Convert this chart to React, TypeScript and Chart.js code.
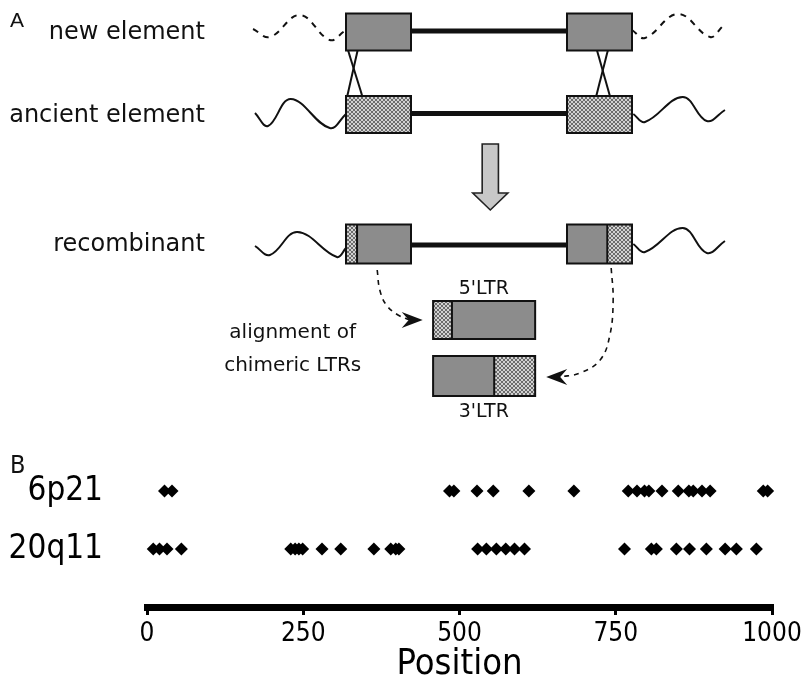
import React, { useEffect, useRef } from "react";
import { Chart, registerables } from "chart.js";
Chart.register(...registerables);

// ---------------- Panel B data ----------------
const rowNames = ["6p21", "20q11"];
const rowLevels = [2, 1];
const positions6p21 = [28, 40, 484, 491, 528, 554, 611, 683, 770, 784, 796, 803, 824, 850, 867, 874, 888, 901, 986, 993];
const positions20q11 = [10, 20, 32, 55, 230, 237, 243, 249, 280, 310, 363, 390, 398, 403, 529, 543, 559, 574, 588, 604, 764, 807, 815, 847, 868, 895, 925, 943, 975];
const xTickValues = [0, 250, 500, 750, 1000];
const xAxisTitle = "Position";
const panelLabels = ["A", "B"];

// ---------------- Panel A texts ----------------
const diagramRowLabels = ["new element", "ancient element", "recombinant"];
const chimeraLabels = ["5'LTR", "3'LTR"];
const alignmentCaption = ["alignment of", "chimeric LTRs"];

// Diagram geometry (x in LTR-length units, y in diagram units)
const LEFT_LTR: [number, number] = [0, 1];
const RIGHT_LTR: [number, number] = [3.4, 4.4];
const ROW_Y = [32, 114.5, 244];
const BOX_HALF = 18.5;
const LEFT_CROSS = 0.17;
const RIGHT_CROSS = 4.02;

const waveNewLeft = [[-1.43, 29], [-1.17, 37], [-0.71, 15], [-0.25, 40], [-0.02, 31]];
const waveNewRight = [[4.4, 30], [4.6, 38], [5.11, 14], [5.6, 37], [5.8, 26]];
const waveOldLeft = [[-1.4, 113], [-1.2, 126], [-0.85, 99], [-0.25, 128], [0, 114]];
const waveOldRight = [[4.42, 114], [4.6, 122], [5.18, 97], [5.55, 121], [5.83, 110]];
const waveRecLeft = [[-1.4, 246], [-1.17, 255], [-0.75, 232], [-0.14, 257], [0, 248]];
const waveRecRight = [[4.42, 244], [4.6, 252], [5.18, 228], [5.55, 253], [5.83, 241]];
const crossLines = [
  [[0.03, 50], [0.25, 96]],
  [[0.18, 50], [0.02, 96]],
  [[3.86, 50], [4.06, 96]],
  [[4.03, 50], [3.85, 96]],
];
const curveLeft = [[0.48, 270], [0.52, 290], [0.62, 305], [0.8, 315], [0.98, 320]];
const curveRight = [[4.08, 268], [4.11, 300], [4.06, 335], [3.91, 360], [3.6, 373], [3.29, 377]];

const FONT_A = "'DejaVu Sans', 'Lucida Grande', Verdana, sans-serif";
const FONT_B = "'Liberation Sans Narrow', 'DejaVu Sans Condensed', 'Liberation Sans', sans-serif";

const toPts = (arr: number[][]) => arr.map(([x, y]) => ({ x, y }));

function makeHatch(ctx: CanvasRenderingContext2D) {
  const c = document.createElement("canvas");
  c.width = 4;
  c.height = 4;
  const g = c.getContext("2d")!;
  g.fillStyle = "#d2d2d2";
  g.fillRect(0, 0, 4, 4);
  g.fillStyle = "#6c6c6c";
  for (let i = 0; i < 4; i++) {
    g.fillRect(i, i, 1, 1);
    g.fillRect(i, 3 - i, 1, 1);
  }
  return ctx.createPattern(c, "repeat")!;
}

const diagramPlugin = {
  id: "diagram",
  afterDatasetsDraw(chart: any) {
    const ctx: CanvasRenderingContext2D = chart.ctx;
    const sx = chart.scales.x;
    const sy = chart.scales.y;
    const X = (u: number) => sx.getPixelForValue(u);
    const Y = (v: number) => sy.getPixelForValue(v);
    const hatch = makeHatch(ctx);
    const solid = "#8c8c8c";
    ctx.save();

    const rect = (u0: number, u1: number, v0: number, v1: number, fill: any) => {
      ctx.fillStyle = fill;
      ctx.fillRect(X(u0), Y(v0), X(u1) - X(u0), Y(v1) - Y(v0));
    };
    const frame = (u0: number, u1: number, v0: number, v1: number) => {
      ctx.lineWidth = 2;
      ctx.strokeStyle = "#111";
      ctx.strokeRect(X(u0), Y(v0), X(u1) - X(u0), Y(v1) - Y(v0));
    };
    const divider = (u: number, v0: number, v1: number) => {
      ctx.lineWidth = 2;
      ctx.strokeStyle = "#111";
      ctx.beginPath();
      ctx.moveTo(X(u), Y(v0));
      ctx.lineTo(X(u), Y(v1));
      ctx.stroke();
    };

    // new element boxes
    let v0 = ROW_Y[0] - BOX_HALF, v1 = ROW_Y[0] + BOX_HALF;
    rect(LEFT_LTR[0], LEFT_LTR[1], v0, v1, solid);
    frame(LEFT_LTR[0], LEFT_LTR[1], v0, v1);
    rect(RIGHT_LTR[0], RIGHT_LTR[1], v0, v1, solid);
    frame(RIGHT_LTR[0], RIGHT_LTR[1], v0, v1);

    // ancient element boxes
    v0 = ROW_Y[1] - BOX_HALF; v1 = ROW_Y[1] + BOX_HALF;
    rect(LEFT_LTR[0], LEFT_LTR[1], v0, v1, hatch);
    frame(LEFT_LTR[0], LEFT_LTR[1], v0, v1);
    rect(RIGHT_LTR[0], RIGHT_LTR[1], v0, v1, hatch);
    frame(RIGHT_LTR[0], RIGHT_LTR[1], v0, v1);

    // recombinant boxes
    v0 = ROW_Y[2] - BOX_HALF - 1; v1 = ROW_Y[2] + BOX_HALF + 1;
    rect(LEFT_LTR[0], LEFT_CROSS, v0, v1, hatch);
    rect(LEFT_CROSS, LEFT_LTR[1], v0, v1, solid);
    divider(LEFT_CROSS, v0, v1);
    frame(LEFT_LTR[0], LEFT_LTR[1], v0, v1);
    rect(RIGHT_LTR[0], RIGHT_CROSS, v0, v1, solid);
    rect(RIGHT_CROSS, RIGHT_LTR[1], v0, v1, hatch);
    divider(RIGHT_CROSS, v0, v1);
    frame(RIGHT_LTR[0], RIGHT_LTR[1], v0, v1);

    // chimeric LTR alignment boxes
    const c0 = 1.34, c1 = 2.91;
    rect(c0, 1.63, 301, 339, hatch);
    rect(1.63, c1, 301, 339, solid);
    divider(1.63, 301, 339);
    frame(c0, c1, 301, 339);
    rect(c0, 2.28, 356, 396, solid);
    rect(2.28, c1, 356, 396, hatch);
    divider(2.28, 356, 396);
    frame(c0, c1, 356, 396);

    // big down arrow
    const ac = 2.22, sw = 0.125, hw = 0.27;
    ctx.beginPath();
    ctx.moveTo(X(ac - sw), Y(144));
    ctx.lineTo(X(ac + sw), Y(144));
    ctx.lineTo(X(ac + sw), Y(193));
    ctx.lineTo(X(ac + hw), Y(193));
    ctx.lineTo(X(ac), Y(210));
    ctx.lineTo(X(ac - hw), Y(193));
    ctx.lineTo(X(ac - sw), Y(193));
    ctx.closePath();
    ctx.fillStyle = "#c8c8c8";
    ctx.fill();
    ctx.lineWidth = 1.6;
    ctx.strokeStyle = "#222";
    ctx.stroke();

    // arrow heads of dashed curves
    const head = (tu: number, tv: number, dir: number) => {
      const tx = X(tu), ty = Y(tv);
      ctx.beginPath();
      ctx.moveTo(tx, ty);
      ctx.lineTo(tx - dir * 21, ty - 8);
      ctx.lineTo(tx - dir * 14, ty);
      ctx.lineTo(tx - dir * 21, ty + 8);
      ctx.closePath();
      ctx.fillStyle = "#111";
      ctx.fill();
    };
    head(1.18, 320, 1);
    head(3.08, 377, -1);

    // texts
    ctx.fillStyle = "#111";
    ctx.textBaseline = "middle";
    ctx.textAlign = "left";
    ctx.font = `21px 'Liberation Sans', Arial, sans-serif`;
    ctx.fillText(panelLabels[0], X(-5.17), Y(21));
    ctx.font = `25px ${FONT_B}`;
    ctx.fillText(panelLabels[1], X(-5.17), Y(466));

    ctx.textAlign = "right";
    ctx.font = `24px ${FONT_A}`;
    diagramRowLabels.forEach((t, i) => ctx.fillText(t, X(-2.17), Y(ROW_Y[i] + 1)));

    ctx.textAlign = "center";
    ctx.font = `19px ${FONT_A}`;
    ctx.fillText(chimeraLabels[0], X(2.12), Y(289));
    ctx.fillText(chimeraLabels[1], X(2.12), Y(412));
    ctx.font = `20px ${FONT_A}`;
    ctx.fillText(alignmentCaption[0], X(-0.82), Y(333));
    ctx.fillText(alignmentCaption[1], X(-0.82), Y(366));

    ctx.restore();
  },
};

function lineDs(points: number[][], width: number, dash: number[] = [], tension = 0.4) {
  return {
    type: "line" as const,
    data: toPts(points),
    borderColor: "#111",
    borderWidth: width,
    borderDash: dash,
    pointRadius: 0,
    tension,
    fill: false,
  };
}

export default function App() {
  const refA = useRef<HTMLCanvasElement>(null);
  const refB = useRef<HTMLCanvasElement>(null);

  useEffect(() => {
    const datasetsA: any[] = [
      lineDs(waveNewLeft, 2, [6, 6]),
      lineDs(waveNewRight, 2, [6, 6]),
      lineDs(waveOldLeft, 2),
      lineDs(waveOldRight, 2),
      lineDs(waveRecLeft, 2),
      lineDs(waveRecRight, 2),
      lineDs([[LEFT_LTR[1], 31], [RIGHT_LTR[0], 31]], 5, [], 0),
      lineDs([[LEFT_LTR[1], 113.5], [RIGHT_LTR[0], 113.5]], 5, [], 0),
      lineDs([[LEFT_LTR[1], 245], [RIGHT_LTR[0], 245]], 5, [], 0),
      ...crossLines.map((l) => lineDs(l, 2, [], 0)),
      lineDs(curveLeft, 1.6, [5, 5]),
      lineDs(curveRight, 1.6, [5, 5]),
    ];
    const chartA = new Chart(refA.current!, {
      type: "scatter",
      data: { datasets: datasetsA },
      options: {
        animation: false,
        responsive: false,
        events: [],
        layout: { padding: 0 },
        plugins: { legend: { display: false }, tooltip: { enabled: false } },
        scales: {
          x: { type: "linear", min: -346 / 65, max: 462 / 65, display: false },
          y: { type: "linear", min: 0, max: 684, reverse: true, display: false },
        },
      },
      plugins: [diagramPlugin],
    });

    const pointStyle = {
      pointStyle: "rectRot" as const,
      pointRadius: 6.5,
      backgroundColor: "#000",
      borderColor: "#000",
      borderWidth: 0,
    };

    const chartB = new Chart(refB.current!, {
      type: "scatter",
      data: {
        datasets: [
          { label: rowNames[0], data: positions6p21.map((x) => ({ x, y: rowLevels[0] })), ...pointStyle },
          { label: rowNames[1], data: positions20q11.map((x) => ({ x, y: rowLevels[1] })), ...pointStyle },
        ],
      },
      options: {
        animation: false,
        responsive: false,
        events: [],
        clip: false as any,
        layout: { padding: { left: 0, right: 36, top: 462, bottom: 0 } },
        plugins: { legend: { display: false }, tooltip: { enabled: false } },
        scales: {
          x: {
            type: "linear",
            min: 0,
            max: 1000,
            afterBuildTicks: (s: any) => {
              s.ticks = xTickValues.map((v) => ({ value: v }));
            },
            afterFit: (s: any) => {
              s.height = 77;
            },
            ticks: {
              color: "#000",
              font: { family: FONT_B, size: 26 },
              padding: 4,
              maxRotation: 0,
              autoSkip: false,
              callback: (v: any) => String(v),
            },
            grid: {
              display: true,
              drawOnChartArea: false,
              drawTicks: true,
              tickLength: 8,
              lineWidth: 3,
              color: "#000",
            },
            border: { display: true, width: 7, color: "#000" },
            title: {
              display: true,
              text: xAxisTitle,
              color: "#000",
              font: { family: FONT_B, size: 36, lineHeight: 1 },
              padding: { top: 0, bottom: 1 },
            },
          },
          y: {
            type: "linear",
            min: 0,
            max: 2.5,
            afterBuildTicks: (s: any) => {
              s.ticks = rowLevels.map((v) => ({ value: v }));
            },
            afterFit: (s: any) => {
              s.width = 147;
            },
            ticks: {
              color: "#000",
              font: { family: FONT_B, size: 33 },
              padding: 44,
              callback: (v: any) => {
                const i = rowLevels.indexOf(Number(v));
                return i >= 0 ? rowNames[i] : "";
              },
            },
            grid: { display: false, drawTicks: false },
            border: { display: false },
          },
        },
      },
    });

    return () => {
      chartA.destroy();
      chartB.destroy();
    };
  }, []);

  return (
    <div style={{ position: "fixed", left: 0, top: 0, width: 808, height: 684, background: "#fff" }}>
      <canvas ref={refA} width={808} height={684} style={{ position: "absolute", left: 0, top: 0 }} />
      <canvas ref={refB} width={808} height={684} style={{ position: "absolute", left: 0, top: 0 }} />
    </div>
  );
}
